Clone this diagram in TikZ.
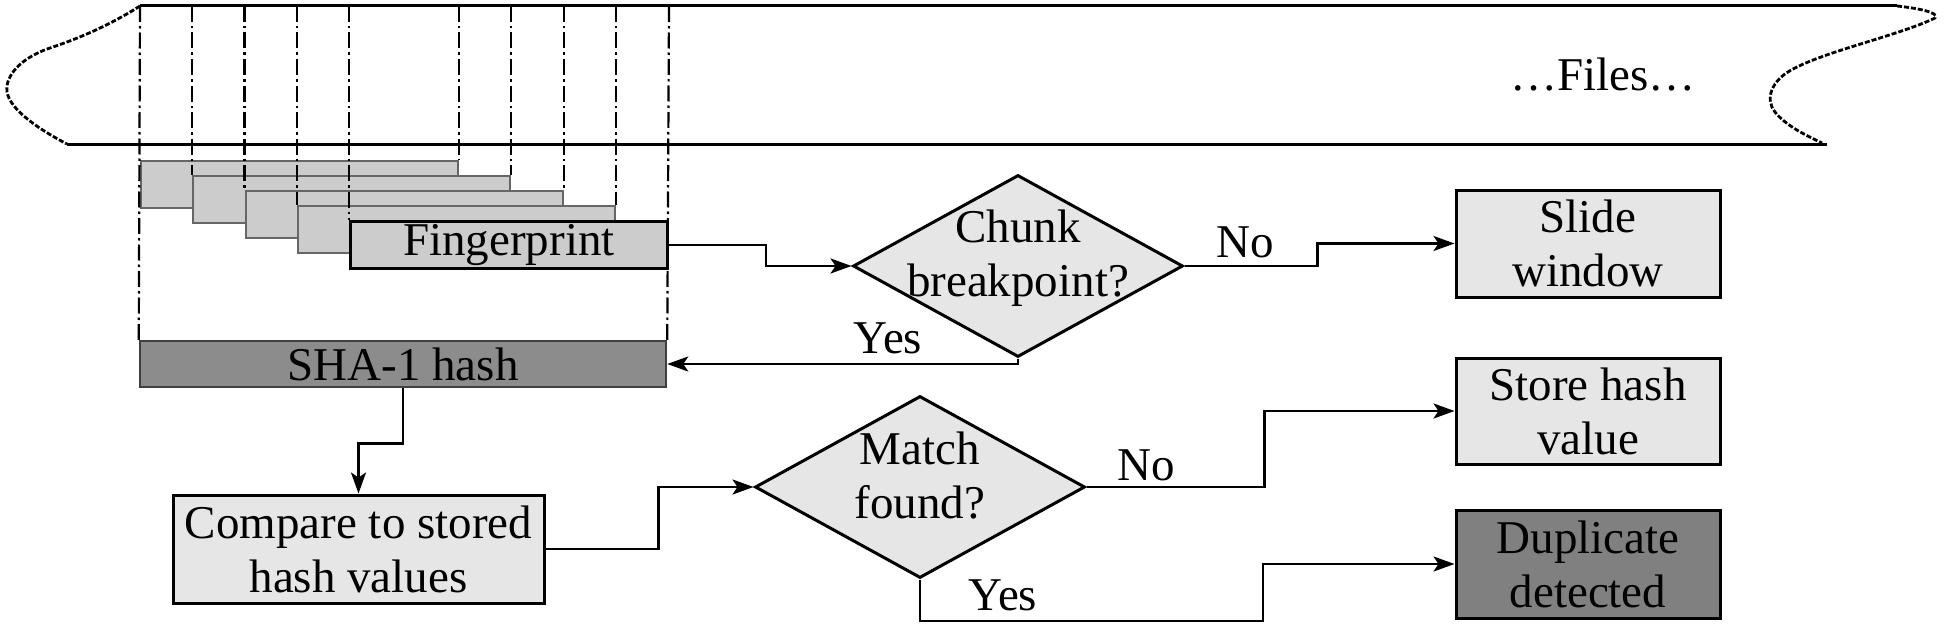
\documentclass[tikz,border=0pt]{standalone}
\usepackage{fontspec}
\setmainfont{Liberation Serif}
\usetikzlibrary{shapes.geometric,arrows.meta}
\definecolor{lightfill}{HTML}{E6E6E6}
\definecolor{fpfill}{HTML}{CCCCCC}
\definecolor{shafill}{HTML}{8C8C8C}
\definecolor{dupfill}{HTML}{808080}
\begin{document}
\begin{tikzpicture}[x=1pt,y=-1pt,
  every node/.style={font=\fontsize{47}{54}\selectfont, inner sep=0pt},
  box/.style={rectangle, draw=black, line width=3pt, fill=lightfill, align=center, minimum width=264pt},
  fpbox/.style={rectangle, draw=black!60, line width=2.2pt, fill=fpfill, minimum width=317pt, minimum height=47pt, anchor=north west},
  dia/.style={diamond, draw=black, line width=3pt, fill=lightfill, minimum width=330pt, minimum height=182pt},
  txt/.style={align=center},
  lbl/.style={anchor=base},
  arr/.style={-{Stealth[length=21pt,width=15pt,inset=5pt]}, line width=2.6pt},
  edge/.style={line width=3pt},
  wave/.style={line width=2.8pt, dash pattern=on 5pt off 2pt},
  dd/.style={line width=2.2pt, dash pattern=on 16pt off 4pt on 2.5pt off 4pt}
]
\useasboundingbox (0,0) rectangle (1950,626);

% file strip
\draw[edge] (140,6) -- (1897,6);
\draw[edge] (67,144) -- (1827,144);
\draw[wave] (140,6) .. controls (110,25) and (80,38) .. (50,48) .. controls (15,60) and (5,80) .. (7,92) .. controls (10,110) and (40,130) .. (67,144);
\draw[wave] (1897,6) .. controls (1915,8) and (1940,12) .. (1935,18) .. controls (1900,35) and (1830,50) .. (1795,68) .. controls (1770,80) and (1765,100) .. (1775,112) .. controls (1785,125) and (1805,135) .. (1822,143);
\node[lbl] (files) at (1603,90) {…Files…};
\coordinate (T) at (0,6);

% stacked fingerprint windows
\node[fpbox] (fp1) at (140,160) {};
\node[fpbox] (fp2) at (192,175) {};
\node[fpbox] (fp3) at (244.5,190) {};
\node[fpbox] (fp4) at (297,205) {};
\node[fpbox, draw=black, line width=3pt] (fp) at (349,220) {Fingerprint};

% SHA-1
\node[rectangle, draw=black!75, line width=2.5pt, fill=shafill, minimum width=526pt, minimum height=46pt] (sha) at (403,364) {SHA-1 hash};

% dash-dot guide lines
\draw[dd] (fp1.north west |- T) -- (sha.north west);
\draw[dd] (fp2.north west |- T) -- (fp2.north west);
\draw[dd] (fp3.north west |- T) -- (fp3.north west);
\draw[dd] (fp4.north west |- T) -- (fp4.north west);
\draw[dd] (fp.north west |- T) -- (fp.north west);
\draw[dd] (fp1.north east |- T) -- (fp1.north east);
\draw[dd] (fp2.north east |- T) -- (fp2.north east);
\draw[dd] (fp3.north east |- T) -- (fp3.north east);
\draw[dd] (fp4.north east |- T) -- (fp4.north east);
\draw[dd] (fp.north east |- T) -- (sha.north east);

% decisions
\node[dia] (d1) at (1018,266) {};
\node[txt] (d1t) at (1018,258) {Chunk\\breakpoint?};
\node[dia] (d2) at (920,487) {};
\node[txt] (d2t) at (920,476) {Match\\found?};

% process boxes
\node[box, minimum height=107pt] (slide) at (1588,243.5) {Slide\\window};
\node[box, minimum height=106pt] (store) at (1588,411) {Store hash\\value};
\node[box, minimum height=108pt, fill=dupfill] (dup) at (1588,564) {Duplicate\\detected};
\node[box, minimum width=371pt, minimum height=108pt] (cmp) at (358.5,549) {Compare to stored\\hash values};

% connectors
\draw[arr] (fp.east) -- ++(97,0) |- (d1.west);
\draw[arr] (d1.east) -- ++(133,0) |- (slide.west);
\draw[arr] (d1.south) |- (sha.east);
\draw[arr] (sha.south) -- ++(0,55) -| (cmp.north);
\draw[arr] (cmp.east) -- ++(113,0) |- (d2.west);
\draw[arr] (d2.east) -- ++(178,0) |- (store.west);
\coordinate (c7) at (1263,621);
\draw[arr] (d2.south) |- (c7) |- (dup.west);

% labels
\node[lbl] (no1) at (1245,257) {No};
\node[lbl] (yes1) at (888,353) {Yes};
\node[lbl] (no2) at (1146,480) {No};
\node[lbl] (yes2) at (1003,610) {Yes};
\end{tikzpicture}
\end{document}
